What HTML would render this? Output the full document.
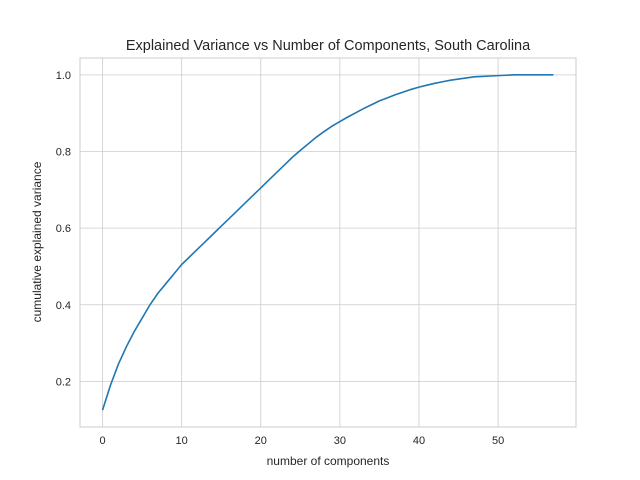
<!DOCTYPE html>
<html><head><meta charset="utf-8"><style>body{margin:0;background:#fff}svg{display:block;font-family:"Liberation Sans",sans-serif}</style></head>
<body>
<svg id="c" width="640" height="480"></svg>
<script>
const components = [0,1,2,3,4,5,6,7,8,9,10,11,12,13,14,15,16,17,18,19,20,21,22,23,24,25,26,27,28,29,30,31,32,33,34,35,36,37,38,39,40,41,42,43,44,45,46,47,48,49,50,51,52,53,54,55,56,57];
const variance = [0.125,0.19,0.245,0.29,0.33,0.365,0.40,0.43,0.455,0.48,0.505,0.525,0.545,0.565,0.585,0.605,0.625,0.645,0.665,0.685,0.705,0.725,0.745,0.765,0.785,0.803,0.82,0.837,0.852,0.866,0.878,0.89,0.901,0.912,0.922,0.932,0.94,0.948,0.955,0.962,0.968,0.973,0.978,0.982,0.986,0.989,0.992,0.995,0.996,0.997,0.998,0.999,1,1,1,1,1,1];
const xTicks = [0,10,20,30,40,50];
const yTicks = [0.2,0.4,0.6,0.8,1.0];
const NS="http://www.w3.org/2000/svg", svg=document.getElementById('c');
const L=80,R=576,T=58,B=427,x0=-2.85,x1=59.85,y0=0.081,y1=1.044;
const X=v=>L+(v-x0)/(x1-x0)*(R-L), Y=v=>B-(v-y0)/(y1-y0)*(B-T);
function mk(t,a,txt){const e=document.createElementNS(NS,t);for(const k in a)e.setAttribute(k,a[k]);if(txt!=null)e.textContent=txt;svg.appendChild(e);return e;}
xTicks.forEach(t=>{const g=mk('line',{x1:X(t),x2:X(t),y1:T,y2:B,stroke:'#ccc','stroke-width':0.8});


const l=mk('text',{x:X(t),y:B+17,'text-anchor':'middle','font-size':11,fill:'#262626'},t);

});
yTicks.forEach(t=>{const g=mk('line',{x1:L,x2:R,y1:Y(t),y2:Y(t),stroke:'#ccc','stroke-width':0.8});


const l=mk('text',{x:L-9,y:Y(t)+4,'text-anchor':'end','font-size':11,fill:'#262626'},t.toFixed(1));

});
const fr=mk('rect',{x:L,y:T,width:R-L,height:B-T,fill:'none',stroke:'#ccc','stroke-width':1});


const p=mk('polyline',{points:components.map((c,i)=>X(c)+','+Y(variance[i])).join(' '),fill:'none',stroke:'#1f77b4','stroke-width':1.6});


const tt=mk('text',{x:(L+R)/2,y:50,'text-anchor':'middle','font-size':14.5,fill:'#262626'},'Explained Variance vs Number of Components, South Carolina');


const xl=mk('text',{x:(L+R)/2,y:465,'text-anchor':'middle','font-size':12,fill:'#262626'},'number of components');


const yl=mk('text',{x:0,y:0,transform:'translate(41,242) rotate(-90)','text-anchor':'middle','font-size':12,fill:'#262626'},'cumulative explained variance');


</script>
</body></html>
